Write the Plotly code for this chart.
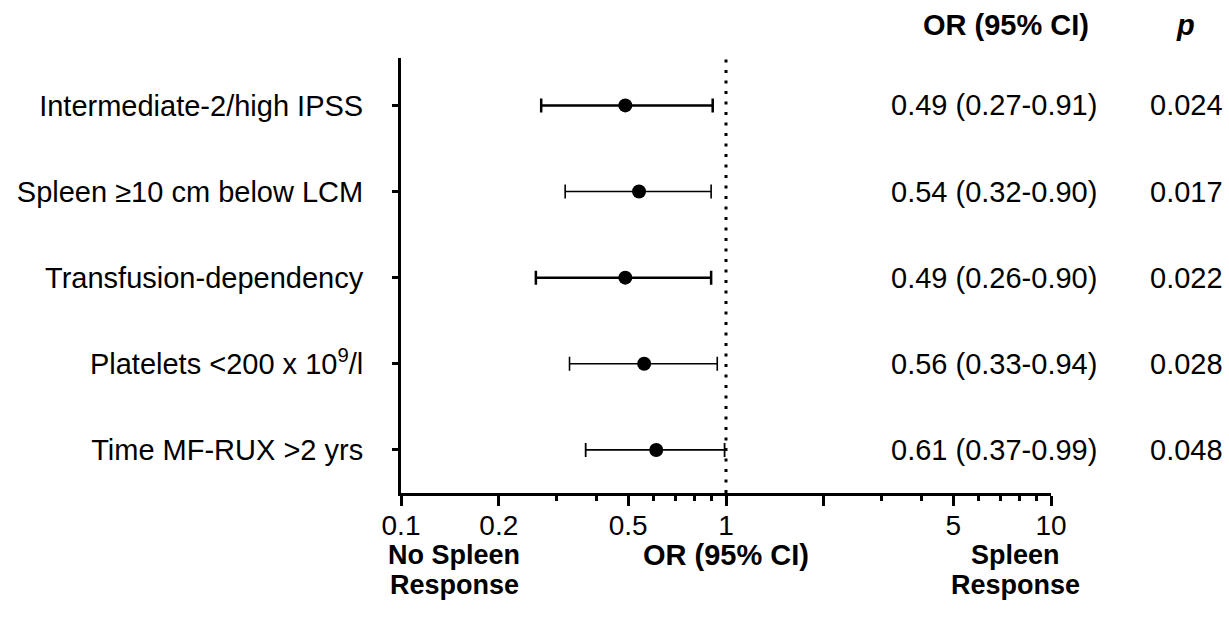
import plotly.graph_objects as go

# ---- data ----
categories = ["Intermediate-2/high IPSS", "Spleen ≥10 cm below LCM", "Transfusion-dependency",
              "Platelets &lt;200 x 10<sup>9</sup>/l", "Time MF-RUX &gt;2 yrs"]
odds_ratio = [0.49, 0.54, 0.49, 0.56, 0.61]
ci_low = [0.27, 0.32, 0.26, 0.33, 0.37]
ci_high = [0.91, 0.90, 0.90, 0.94, 0.99]
or_text = ["0.49 (0.27-0.91)", "0.54 (0.32-0.90)", "0.49 (0.26-0.90)", "0.56 (0.33-0.94)", "0.61 (0.37-0.99)"]
p_text = ["0.024", "0.017", "0.022", "0.028", "0.048"]
row_pos = [5, 4, 3, 2, 1]
major_ticks = [0.1, 0.2, 0.5, 1, 2, 5, 10]
major_labels = ["0.1", "0.2", "0.5", "1", "", "5", "10"]
minor_ticks = [0.3, 0.4, 0.6, 0.7, 0.8, 0.9, 3, 4, 6, 7, 8, 9]

FONT = "Arial, Liberation Sans, sans-serif"
bar_width = [2.5, 1.6, 2.5, 1.6, 1.8]

fig = go.Figure()

# reference line at OR = 1
fig.add_shape(type="line", xref="x", yref="paper", x0=1, x1=1, y0=0, y1=1,
              line=dict(color="black", width=3, dash="3px,7.5px"), layer="below")

for i in range(len(categories)):
    fig.add_trace(go.Scatter(
        x=[odds_ratio[i]], y=[row_pos[i]], mode="markers",
        marker=dict(color="black", size=14, symbol="circle"),
        error_x=dict(type="data", symmetric=False,
                     array=[ci_high[i] - odds_ratio[i]],
                     arrayminus=[odds_ratio[i] - ci_low[i]],
                     color="black", thickness=bar_width[i], width=7),
        showlegend=False, hoverinfo="skip", cliponaxis=False))

annotations = []
for i in range(len(categories)):
    annotations.append(dict(x=0.912, y=row_pos[i], xref="paper", yref="y", text=or_text[i],
                            showarrow=False, xanchor="center", yanchor="middle",
                            font=dict(family=FONT, size=29, color="black")))
    annotations.append(dict(x=1.209, y=row_pos[i], xref="paper", yref="y", text=p_text[i],
                            showarrow=False, xanchor="center", yanchor="middle",
                            font=dict(family=FONT, size=29, color="black")))

def bold_note(x, y, text, size):
    return dict(x=x, y=y, xref="paper", yref="paper", text="<b>" + text + "</b>", showarrow=False,
                xanchor="center", yanchor="middle", font=dict(family=FONT, size=size, color="black"))

annotations += [
    bold_note(0.93, 1.077, "OR (95% CI)", 29),
    bold_note(1.207, 1.077, "<i>p</i>", 29),
    bold_note(0.082, -0.143, "No Spleen", 27),
    bold_note(0.082, -0.211, "Response", 27),
    bold_note(0.500, -0.143, "OR (95% CI)", 29),
    bold_note(0.945, -0.143, "Spleen", 27),
    bold_note(0.945, -0.211, "Response", 27),
]

fig.update_layout(
    width=1229, height=621,
    margin=dict(l=401, r=178, t=58, b=128),
    paper_bgcolor="white", plot_bgcolor="white",
    font=dict(family=FONT, size=29, color="black"),
    annotations=annotations,
    xaxis=dict(type="log", range=[-1, 1], showgrid=False, zeroline=False,
               showline=True, linecolor="black", linewidth=3,
               ticks="outside", ticklen=10, tickwidth=2.5, tickcolor="black",
               tickvals=major_ticks, ticktext=major_labels,
               ticklabelstandoff=-5,
               tickfont=dict(family=FONT, size=28, color="black"),
               minor=dict(tickvals=minor_ticks, ticks="outside", ticklen=5, tickwidth=2.5,
                          tickcolor="black", showgrid=False)),
    yaxis=dict(range=[0.5, 5.55], showgrid=False, zeroline=False,
               showline=True, linecolor="black", linewidth=3,
               ticks="outside", ticklen=6, tickwidth=2.5, tickcolor="black",
               tickvals=row_pos, ticktext=categories,
               ticklabelstandoff=23,
               tickfont=dict(family=FONT, size=29, color="black")),
)

fig.write_html("out.html")
